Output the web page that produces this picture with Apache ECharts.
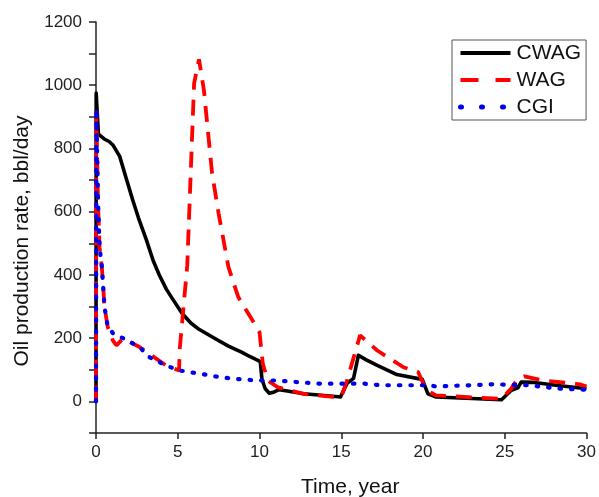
<!DOCTYPE html>
<html>
<head>
<meta charset="utf-8">
<script src="https://cdn.jsdelivr.net/npm/echarts@6/dist/echarts.min.js"></script>
<style>
  html, body { margin:0; padding:0; background:#fff; }
  #chart { width:599px; height:497px; }
</style>
</head>
<body>
<div id="chart"></div>
<script>
// time (year) and oil rate (bbl/day)
const cwagT = [0, 0.01, 0.15, 0.5, 0.8, 1.05, 1.45, 1.85, 2.25, 2.6, 3.06, 3.5, 3.87, 4.3, 4.67, 5.27, 5.8, 6.3, 7.3, 8.1, 8.9, 9.4, 9.9, 10.05, 10.15, 10.35, 10.6, 10.9, 11.2, 11.7, 12.7, 14.5, 14.95, 15.35, 15.75, 16.05, 16.5, 17.2, 18.4, 19.7, 19.95, 20.3, 20.8, 24.8, 25.4, 25.8, 26.0, 26.8, 28, 30];
const cwagV = [0, 975, 845, 830, 822, 810, 775, 705, 636, 580, 514, 445, 400, 355, 325, 278, 248, 228, 198, 175, 156, 142, 130, 124, 70, 40, 26, 30, 37, 33, 24, 16, 14, 57, 73, 146, 132, 114, 85, 72, 70, 24, 14, 5, 35, 43, 61, 60, 52, 40];

const wagT = [0, 0.02, 0.12, 0.22, 0.36, 0.52, 0.72, 1.03, 1.25, 1.65, 2.66, 4.27, 5.08, 5.12, 5.58, 6.0, 6.3, 6.6, 7.1, 7.5, 8.1, 8.7, 9.5, 10.0, 10.2, 10.5, 11.1, 12.7, 14.5, 15.0, 15.35, 16.15, 17.2, 18.8, 19.7, 20.2, 20.8, 24.8, 25.4, 25.8, 26.2, 27.4, 29.6, 30];
const wagV = [0, 920, 630, 487, 424, 298, 235, 193, 177, 199, 172, 114, 98, 165, 430, 1006, 1082, 984, 721, 594, 425, 330, 262, 219, 120, 66, 45, 24, 14, 14, 66, 209, 161, 108, 93, 35, 19, 8, 41, 72, 79, 66, 54, 47];

const cgiT = [0, 0.02, 0.12, 0.22, 0.36, 0.52, 0.72, 1.05, 1.73, 2.66, 3.26, 4.27, 5.07, 6.3, 7.3, 8.3, 9.9, 11.1, 12.3, 13.7, 16.4, 17.4, 20.4, 20.8, 24.4, 26.4, 28.4, 30];
const cgiV = [0, 925, 640, 487, 424, 298, 235, 215, 198, 172, 140, 114, 98, 88, 79, 72, 66, 66, 61, 56, 56, 51, 51, 47, 54, 51, 40, 37];

const seriesNames = ['CWAG', 'WAG', 'CGI'];
const xTitle = 'Time, year';
const yTitle = 'Oil production rate, bbl/day';

const zip = (t, v) => t.map((x, i) => [x, v[i]]);
const font = '"Liberation Sans", Arial, sans-serif';
const axisCol = '#222';

const chart = echarts.init(document.getElementById('chart'));
chart.setOption({
  animation: false,
  backgroundColor: '#fff',
  grid: { left: 96, right: 7, top: 22, bottom: 64 },
  xAxis: {
    type: 'value', min: 0, max: 30, interval: 5,
    axisLine: { show: true, onZero: false, lineStyle: { color: axisCol, width: 1.5 } },
    axisTick: { show: true, inside: false, length: 6, lineStyle: { color: axisCol, width: 1.5 } },
    axisLabel: { color: '#222', fontSize: 17, fontFamily: font, margin: 11 },
    splitLine: { show: false }
  },
  yAxis: {
    type: 'value', min: -100, max: 1200, interval: 100,
    axisLine: { show: true, lineStyle: { color: axisCol, width: 1.5 } },
    axisTick: { show: true, inside: false, length: 7, lineStyle: { color: axisCol, width: 1.5 } },
    axisLabel: {
      color: '#222', fontSize: 17, fontFamily: font, margin: 14,
      formatter: v => (v >= 0 && v % 200 === 0) ? String(v) : ''
    },
    splitLine: { show: false }
  },
  legend: {
    orient: 'vertical', left: 452, top: 40,
    data: [
      { name: seriesNames[0], lineStyle: { width: 4, type: 'solid' } },
      { name: seriesNames[1], lineStyle: { width: 4, type: [18, 17] } },
      { name: seriesNames[2], lineStyle: { width: 5, type: [1, 20], cap: 'round' } }
    ],
    itemWidth: 50, itemHeight: 14, itemGap: 3, itemStyle: { opacity: 0 },
    padding: [1, 5, 1, 6],
    borderColor: '#555', borderWidth: 1,
    textStyle: { color: '#111', fontSize: 21, fontFamily: font, lineHeight: 24, padding: [0, 0, 0, 1] }
  },
  graphic: [
    { type: 'text', left: 301, top: 477, style: { text: xTitle, font: '21px ' + font, fill: '#111' } },
    { type: 'text', rotation: Math.PI / 2, x: 22, y: 241,
      style: { text: yTitle, font: '21px ' + font, fill: '#111', align: 'center', verticalAlign: 'middle' } }
  ],
  series: [
    { name: 'CWAG', type: 'line', data: zip(cwagT, cwagV), showSymbol: false, symbol: 'none', z: 3,
      lineStyle: { color: '#000', width: 3.6, join: 'round' } },
    { name: 'WAG', type: 'line', data: zip(wagT, wagV), showSymbol: false, symbol: 'none', z: 4,
      lineStyle: { color: '#ff0000', width: 3.8, type: [16, 10] } },
    { name: 'CGI', type: 'line', data: zip(cgiT, cgiV), showSymbol: false, symbol: 'none', z: 5,
      lineStyle: { color: '#0000ee', width: 4.2, type: [1.5, 10], cap: 'round' } }
  ]
});
</script>
</body>
</html>
